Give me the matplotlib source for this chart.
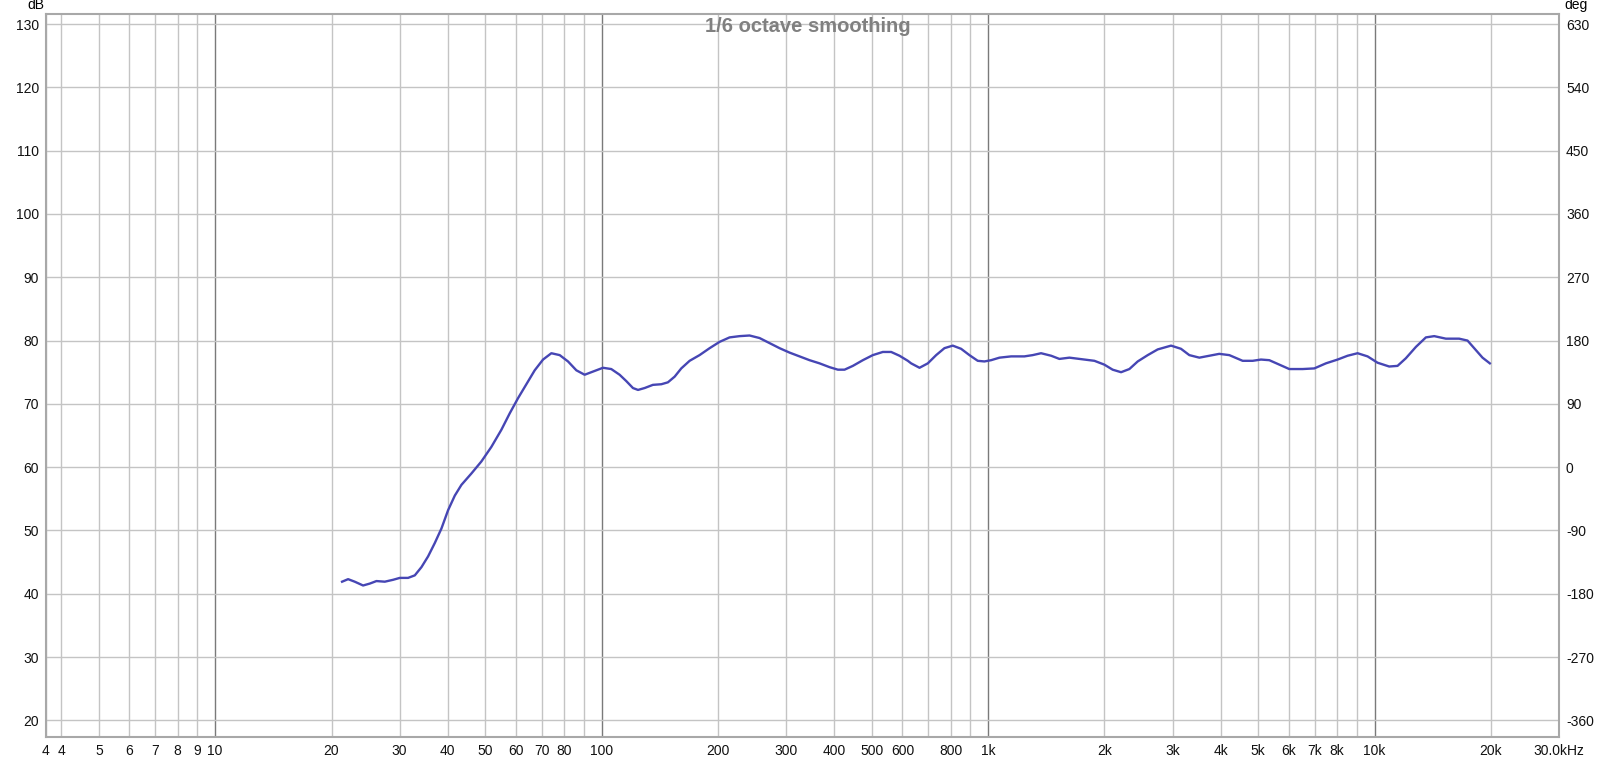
import numpy as np
import matplotlib
matplotlib.use("Agg")
import matplotlib.pyplot as plt

# ---- data (Hz, dB) ----
freq = [21.3, 22.08, 22.97, 24.14, 25.12, 26.14, 27.47, 28.87, 30.04, 31.56, 32.85,
        34.18, 35.56, 37.0, 38.5, 40.06, 41.69, 43.37, 46.03, 48.85, 51.84, 55.02,
        57.83, 60.77, 63.87, 67.11, 70.53, 74.11, 77.89, 81.85, 86.01, 90.37, 94.97,
        100.8, 105.9, 111.3, 115.8, 120.5, 124.2, 129.2, 135.7, 142.7, 148.4, 154.5,
        160.7, 168.9, 179.2, 190.3, 202.0, 214.3, 227.5, 241.4, 256.2, 272.0, 288.6,
        306.3, 325.1, 345.1, 366.3, 388.7, 408.6, 425.1, 446.7, 474.1, 503.1, 534.0,
        561.2, 589.9, 619.8, 632.1, 664.5, 698.2, 733.7, 770.9, 810.0, 851.2, 894.6,
        940.1, 978.2, 1018, 1070, 1147, 1241, 1304, 1371, 1456, 1529, 1623, 1722,
        1884, 1998, 2100, 2208, 2320, 2438, 2588, 2746, 2974, 3155, 3316, 3520, 3736,
        3963, 4208, 4556, 4836, 5081, 5340, 5669, 6015, 6514, 6982, 7482, 8023, 8512,
        9036, 9590, 10177, 10909, 11464, 12045, 12791, 13573, 14265, 15290, 16549,
        17394, 18276, 19019, 19868]
spl = [41.9, 42.3, 41.9, 41.3, 41.6, 42.0, 41.9, 42.2, 42.5, 42.5, 42.9,
       44.2, 45.9, 48.0, 50.3, 53.2, 55.5, 57.2, 59.0, 60.9, 63.2, 65.9,
       68.5, 70.9, 73.1, 75.3, 77.0, 78.0, 77.7, 76.7, 75.3, 74.6, 75.1,
       75.7, 75.5, 74.6, 73.6, 72.5, 72.2, 72.5, 73.0, 73.1, 73.4, 74.3,
       75.6, 76.8, 77.7, 78.8, 79.8, 80.5, 80.7, 80.8, 80.4, 79.6, 78.8,
       78.1, 77.5, 76.9, 76.4, 75.8, 75.4, 75.4, 76.0, 76.9, 77.7, 78.2,
       78.2, 77.6, 76.8, 76.4, 75.7, 76.4, 77.7, 78.8, 79.2, 78.7, 77.7,
       76.8, 76.7, 76.9, 77.3, 77.5, 77.5, 77.7, 78.0, 77.6, 77.1, 77.3, 77.1,
       76.8, 76.2, 75.4, 75.0, 75.5, 76.7, 77.7, 78.6, 79.2, 78.7, 77.7, 77.3, 77.6,
       77.9, 77.7, 76.8, 76.8, 77.0, 76.9, 76.2, 75.5, 75.5, 75.6, 76.4, 77.0, 77.6,
       78.0, 77.5, 76.5, 75.9, 76.0, 77.2, 79.0, 80.5, 80.7, 80.3, 80.3,
       80.0, 78.5, 77.3, 76.4]

x_min, x_max = 3.65, 30000
y_min, y_max = 17.36, 131.6

decades = [10, 100, 1000, 10000]
decade_labels = ['10', '100', '1k', '10k']
minor_freqs = [x_min, 4, 5, 6, 7, 8, 9, 20, 30, 40, 50, 60, 70, 80, 90,
               200, 300, 400, 500, 600, 700, 800, 900,
               2000, 3000, 4000, 5000, 6000, 7000, 8000, 9000, 20000, x_max]
minor_labels = ['4', '4', '5', '6', '7', '8', '9', '20', '30', '40', '50', '60', '70', '80', '',
                '200', '300', '400', '500', '600', '', '800', '',
                '2k', '3k', '4k', '5k', '6k', '7k', '8k', '', '20k', '30.0kHz']
db_ticks = list(range(20, 131, 10))
deg_ticks = list(range(-360, 631, 90))

plt.rcParams['font.family'] = ['Liberation Sans', 'DejaVu Sans']
plt.rcParams['axes.unicode_minus'] = False

fig = plt.figure(figsize=(16.17, 7.59), dpi=100)
ax = fig.add_axes([46 / 1617, 1 - 737 / 759, 1513 / 1617, 723 / 759])

ax.set_xscale('log')
ax.set_xlim(x_min, x_max)
ax.set_ylim(y_min, y_max)

ax.set_xticks(decades, labels=decade_labels)
ax.set_xticks(minor_freqs, labels=minor_labels, minor=True)
ax.set_yticks(db_ticks)

ax.grid(True, which='major', axis='x', color='#7a7a7a', lw=1.0)
ax.grid(True, which='minor', axis='x', color='#c4c4c4', lw=1.0)
ax.grid(True, which='major', axis='y', color='#c4c4c4', lw=1.0)
ax.set_axisbelow(True)

ax.plot(freq, spl, color='#4646b4', lw=1.7, zorder=3, solid_joinstyle='round')

ax.tick_params(axis='both', which='both', length=0, labelsize=10, colors='#111111')
ax.tick_params(axis='x', which='both', pad=5)
ax.tick_params(axis='y', pad=5)

for s in ax.spines.values():
    s.set_color('#a8a8a8')
    s.set_linewidth(1.5)

ax2 = ax.twinx()
ax2.set_ylim((y_min - 60) * 9, (y_max - 60) * 9)
ax2.set_yticks(deg_ticks)
ax2.tick_params(axis='y', length=0, labelsize=10, pad=5, colors='#111111')
for s in ax2.spines.values():
    s.set_visible(False)

fig.text(27 / 1617, 1 - 5 / 759, 'dB', fontsize=10, ha='left', va='center')
fig.text(1564 / 1617, 1 - 5 / 759, 'deg', fontsize=10, ha='left', va='center')

ax.text(0.5036, 0.983, '1/6 octave smoothing', transform=ax.transAxes,
        ha='center', va='center', fontsize=14.5, fontweight='bold', color='#808080')

fig.savefig('out.png', dpi=100, facecolor='white')
